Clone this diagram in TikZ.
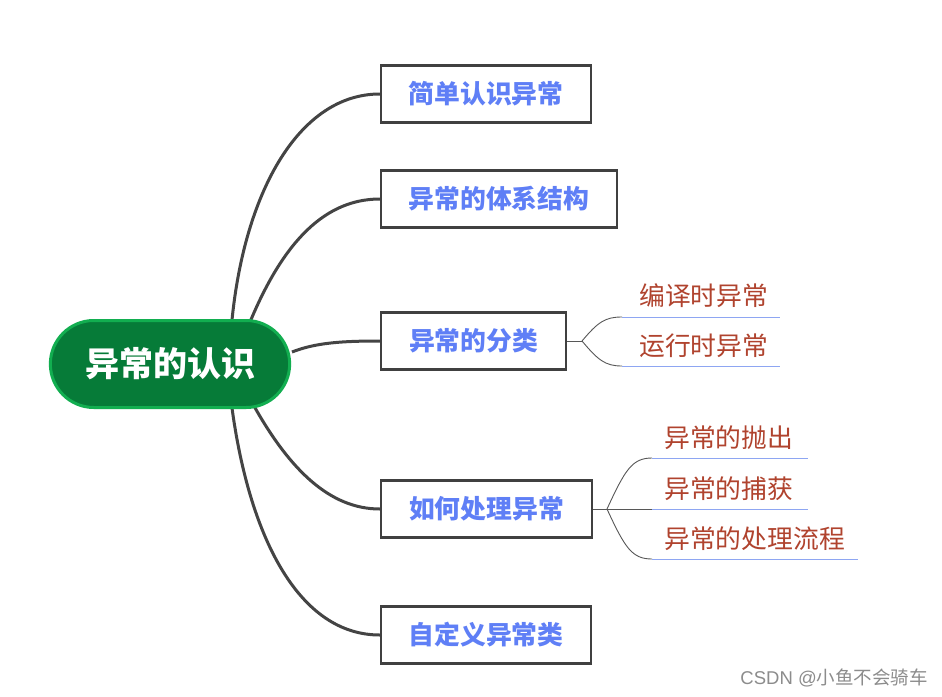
\documentclass[tikz,border=0pt]{standalone}
\usepackage{fontspec}
\setmainfont{Noto Sans CJK SC}
\newfontfamily\wmfont{Liberation Sans}
\definecolor{rootfill}{HTML}{067B38}
\definecolor{rootedge}{HTML}{12AE50}
\definecolor{boxedge}{HTML}{404040}
\definecolor{boxtext}{HTML}{5F7FF6}
\definecolor{subtext}{HTML}{B0432E}
\definecolor{uline}{HTML}{8EA6F2}
\definecolor{conn}{HTML}{444444}
\usetikzlibrary{shapes.misc}
\tikzset{
  rootnode/.style={rounded rectangle, fill=rootfill, draw=rootedge, line width=3pt, minimum width=243pt, minimum height=87pt, text=white, font=\fontsize{34}{34}\selectfont\bfseries},
  topic/.style={draw=boxedge, line width=2.4pt, fill=white, minimum height=57pt, text=boxtext, font=\fontsize{25.8}{26}\selectfont\bfseries, inner sep=0pt},
  subtopic/.style={text=subtext, font=\fontsize{25.8}{26}\selectfont, anchor=base west, inner sep=0pt},
  mainconn/.style={draw=conn, line width=3pt},
  subconn/.style={draw=conn!90, line width=0.9pt},
  ul/.style={draw=uline, line width=1pt}
}
\begin{document}
\begin{tikzpicture}[x=1pt,y=-1pt]
\useasboundingbox (0,0) rectangle (942,696);
\fill[white] (0,0) rectangle (942,696);
\coordinate (r1) at (232,320);
\coordinate (r2) at (250,322);
\coordinate (r3) at (292,352);
\coordinate (r4) at (254,406);
\coordinate (r5) at (232,408);
\node[topic, minimum width=210pt] (b1) at (486,94) {简单认识异常};
\node[topic, minimum width=236pt] (b2) at (499,199) {异常的体系结构};
\node[topic, minimum width=185pt] (b3) at (473.5,341) {异常的分类};
\node[topic, minimum width=211pt] (b4) at (486.5,509) {如何处理异常};
\node[topic, minimum width=210pt] (b5) at (486,635) {自定义异常类};
\path[mainconn] (r1) .. controls (245,190) and (300,94) .. (b1.west);
\path[mainconn] (r2) .. controls (280,250) and (320,199) .. (b2.west);
\path[mainconn] (r3) .. controls (315,343) and (340,341) .. (b3.west);
\path[mainconn] (r4) .. controls (290,470) and (330,509) .. (b4.west);
\path[mainconn] (r5) .. controls (250,540) and (300,635) .. (b5.west);
\node[rootnode, minimum width=246pt] (root) at (170,364) {异常的认识};
% sub branches of b3
\coordinate (j3) at (582,341);
\coordinate (u1a) at (622,317);
\coordinate (u1b) at (780,317);
\coordinate (u2a) at (622,366);
\coordinate (u2b) at (780,366);
\path[subconn] (b3.east) -- (j3);
\path[subconn] (j3) .. controls (598,322) and (605,317) .. (u1a);
\path[subconn] (j3) .. controls (598,360) and (605,366) .. (u2a);
\path[ul] (u1a) -- (u1b);
\path[ul] (u2a) -- (u2b);
\node[subtopic] (s1) at (639,305) {编译时异常};
\node[subtopic] (s2) at (639,355) {运行时异常};
% sub branches of b4
\coordinate (j4) at (607,509);
\coordinate (v1a) at (652,458);
\coordinate (v1b) at (808,458);
\coordinate (v2a) at (652,509);
\coordinate (v2b) at (808,509);
\coordinate (v3a) at (652,559);
\coordinate (v3b) at (858,559);
\path[subconn] (b4.east) -- (v2a);
\path[subconn] (j4) .. controls (625,470) and (632,458) .. (v1a);
\path[subconn] (j4) .. controls (625,548) and (632,559) .. (v3a);
\path[ul] (v1a) -- (v1b);
\path[ul] (v2a) -- (v2b);
\path[ul] (v3a) -- (v3b);
\node[subtopic] (t1) at (664,447) {异常的抛出};
\node[subtopic] (t2) at (664,498) {异常的捕获};
\node[subtopic] (t3) at (664,548) {异常的处理流程};
\node[anchor=base east, text=black!45, font=\fontsize{18.5}{18.5}\selectfont, inner sep=0pt] (wm) at (928,684) {{\wmfont CSDN @}小鱼不会骑车};
\end{tikzpicture}
\end{document}
